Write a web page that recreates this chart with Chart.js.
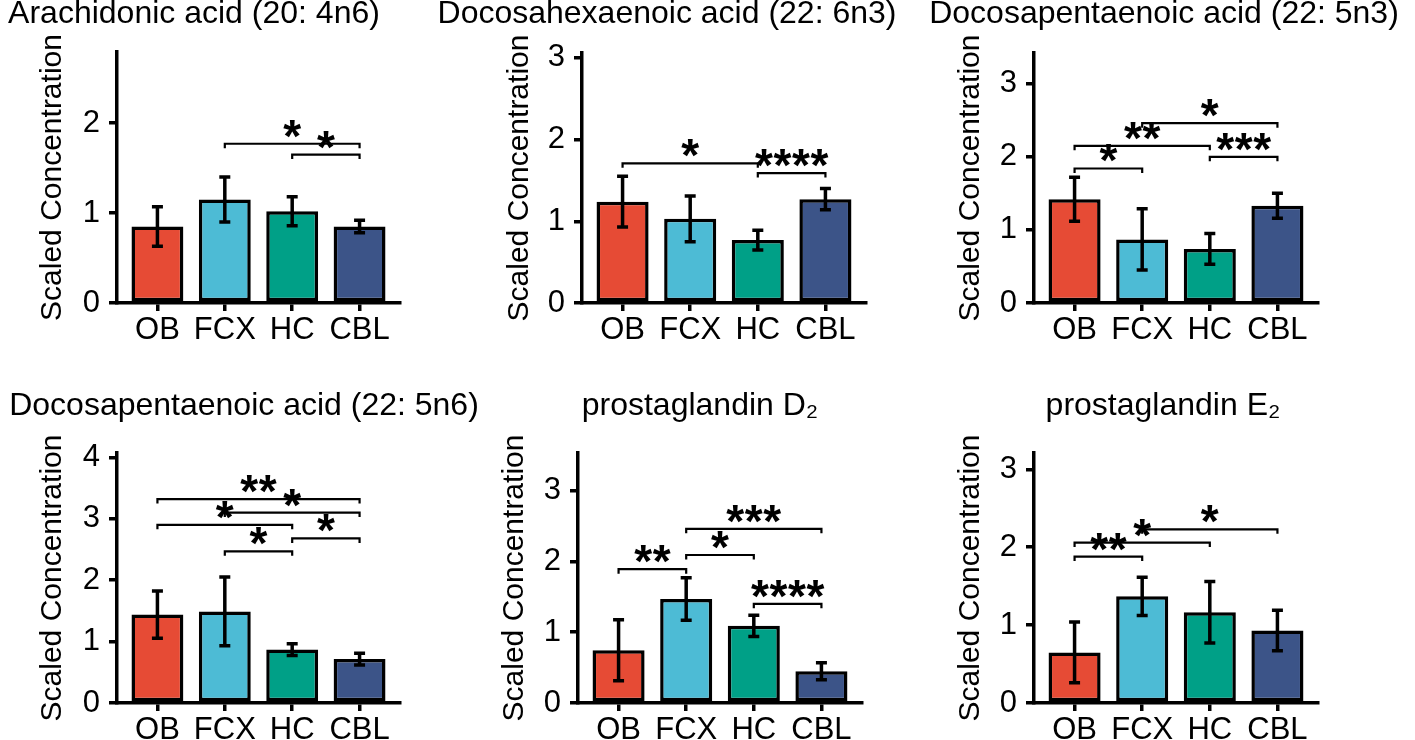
<!DOCTYPE html>
<html>
<head>
<meta charset="utf-8">
<script src="https://cdn.jsdelivr.net/npm/chart.js@4.4.1/dist/chart.umd.min.js"></script>
<style>
  html, body { margin: 0; padding: 0; background: #fff; }
  body { position: relative; width: 1415px; height: 740px; overflow: hidden; }
  canvas { position: absolute; }
</style>
</head>
<body>
<script>
// brain regions and their colours
const regions = ['OB', 'FCX', 'HC', 'CBL'];
const regionColors = ['#E64B35', '#4DBBD5', '#00A087', '#3C5488'];

// mean scaled concentration and error (± half bar) per region
const araMean  = [0.85, 1.15, 1.02, 0.85];
const araErr   = [0.22, 0.25, 0.16, 0.07];
const dhaMean  = [1.24, 1.03, 0.77, 1.27];
const dhaErr   = [0.31, 0.28, 0.12, 0.13];
const dpa3Mean = [1.42, 0.87, 0.74, 1.33];
const dpa3Err  = [0.30, 0.42, 0.21, 0.17];
const dpa6Mean = [1.44, 1.49, 0.87, 0.715];
const dpa6Err  = [0.385, 0.56, 0.095, 0.095];
const pgd2Mean = [0.745, 1.47, 1.09, 0.45];
const pgd2Err  = [0.43, 0.30, 0.15, 0.12];
const pge2Mean = [0.65, 1.37, 1.165, 0.93];
const pge2Err  = [0.39, 0.245, 0.395, 0.26];

// significance brackets: [from region, to region, height, stars]
const araSig  = [[1, 3, 1.77, '*'], [2, 3, 1.65, '*']];
const dhaSig  = [[0, 2, 1.71, '*'], [2, 3, 1.59, '****']];
const dpa3Sig = [[0, 1, 1.84, '*'], [0, 2, 2.15, '**'], [1, 3, 2.46, '*'], [2, 3, 2.0, '***']];
const dpa6Sig = [[0, 3, 3.32, '**'], [1, 3, 3.10, '*'], [0, 2, 2.90, '*'], [2, 3, 2.68, '*'], [1, 2, 2.47, '*']];
const pgd2Sig = [[0, 1, 1.89, '**'], [1, 2, 2.09, '*'], [1, 3, 2.46, '***'], [2, 3, 1.40, '****']];
const pge2Sig = [[0, 1, 1.88, '**'], [0, 2, 2.06, '*'], [1, 3, 2.23, '*']];

const titles = [
  'Arachidonic acid (20: 4n6)',
  'Docosahexaenoic acid (22: 6n3)',
  'Docosapentaenoic acid (22: 5n3)',
  'Docosapentaenoic acid (22: 5n6)',
  'prostaglandin D\u2082',
  'prostaglandin E\u2082'
];
const yMax = [2.79, 3.06, 3.42, 4.07, 3.53, 3.21];
const yLabel = 'Scaled Concentration';

const means = [araMean, dhaMean, dpa3Mean, dpa6Mean, pgd2Mean, pge2Mean];
const errs = [araErr, dhaErr, dpa3Err, dpa6Err, pgd2Err, pge2Err];
const sigs = [araSig, dhaSig, dpa3Sig, dpa6Sig, pgd2Sig, pge2Sig];

// page layout of each panel (plot box, title centre / baseline, y label centre)
const frames = [
  { left: 117,  right: 400,  top: 52,  bottom: 303, titleX: 194,  titleY: 23,  labelX: 53 },
  { left: 582,  right: 866,  top: 53,  bottom: 303, titleX: 667,  titleY: 23,  labelX: 520 },
  { left: 1034, right: 1318, top: 53,  bottom: 303, titleX: 1164, titleY: 23,  labelX: 971 },
  { left: 117,  right: 400,  top: 453, bottom: 703, titleX: 244,  titleY: 415, labelX: 53 },
  { left: 578,  right: 862,  top: 453, bottom: 703, titleX: 700,  titleY: 415, labelX: 515 },
  { left: 1034, right: 1318, top: 453, bottom: 703, titleX: 1163, titleY: 415, labelX: 971 }
];

const FONT = '"Liberation Sans", Arial, Helvetica, sans-serif';
const LINE = 3.5;

const panelMarks = {
  id: 'panelMarks',
  afterDatasetsDraw(chart, args, opts) {
    const ctx = chart.ctx;
    const xs = chart.scales.x, ys = chart.scales.y;
    ctx.save();
    ctx.strokeStyle = '#000';
    ctx.fillStyle = '#000';

    // error bars
    ctx.lineWidth = LINE;
    opts.means.forEach((m, i) => {
      const px = xs.getPixelForValue(i);
      const hi = ys.getPixelForValue(m + opts.errs[i]);
      const lo = ys.getPixelForValue(m - opts.errs[i]);
      ctx.beginPath();
      ctx.moveTo(px, hi); ctx.lineTo(px, lo);
      ctx.moveTo(px - 5.5, hi); ctx.lineTo(px + 5.5, hi);
      ctx.moveTo(px - 5.5, lo); ctx.lineTo(px + 5.5, lo);
      ctx.stroke();
    });

    // significance brackets
    ctx.lineWidth = 2.2;
    ctx.font = 'bold 46px ' + FONT;
    ctx.textAlign = 'center';
    ctx.textBaseline = 'alphabetic';
    opts.sig.forEach(([a, b, h, stars]) => {
      const x1 = xs.getPixelForValue(a), x2 = xs.getPixelForValue(b);
      const py = ys.getPixelForValue(h);
      ctx.beginPath();
      ctx.moveTo(x1, py + 4.5); ctx.lineTo(x1, py); ctx.lineTo(x2, py); ctx.lineTo(x2, py + 4.5);
      ctx.stroke();
      const cx = (x1 + x2) / 2;
      for (let k = 0; k < stars.length; k++) {
        ctx.fillText('*', cx + (k - (stars.length - 1) / 2) * 18.5, py + 8);
      }
    });
    ctx.restore();
  },
  afterDraw(chart, args, opts) {
    const ctx = chart.ctx;
    ctx.save();
    ctx.fillStyle = '#000';
    ctx.font = '32px ' + FONT;
    ctx.textAlign = 'center';
    ctx.textBaseline = 'alphabetic';
    ctx.fillText(opts.title, opts.titleX, opts.titleY);
    ctx.restore();
  }
};

frames.forEach((f, k) => {
  const canvasLeft = Math.round(Math.min(f.labelX - 20, f.titleX - 270));
  const canvasRight = Math.round(Math.max(f.right + 10, f.titleX + 270));
  const canvasTop = f.titleY - 32;
  const canvasBottom = f.bottom + 62;
  const yBoxLeft = f.labelX - 20;

  const canvas = document.createElement('canvas');
  canvas.width = canvasRight - canvasLeft;
  canvas.height = canvasBottom - canvasTop;
  canvas.style.left = canvasLeft + 'px';
  canvas.style.top = canvasTop + 'px';
  document.body.appendChild(canvas);

  const tickFont = { family: FONT, size: 31 };

  new Chart(canvas, {
    type: 'bar',
    data: {
      datasets: [{
        data: means[k].map((v, i) => ({ x: i, y: v })),
        backgroundColor: regionColors,
        borderColor: '#000',
        borderWidth: LINE,
        borderSkipped: false,
        barPercentage: 0.77,
        categoryPercentage: 1
      }]
    },
    options: {
      responsive: false,
      animation: false,
      events: [],
      layout: {
        padding: {
          left: yBoxLeft - canvasLeft,
          right: canvasRight - f.right,
          top: f.top - canvasTop,
          bottom: 0
        }
      },
      plugins: {
        legend: { display: false },
        tooltip: { enabled: false },
        title: { display: false },
        panelMarks: {
          means: means[k],
          errs: errs[k],
          sig: sigs[k],
          title: titles[k],
          titleX: f.titleX - canvasLeft,
          titleY: f.titleY - canvasTop
        }
      },
      scales: {
        x: {
          type: 'linear',
          offset: false,
          min: -0.6,
          max: 3.6,
          afterFit: (s) => { s.height = canvasBottom - f.bottom; },
          border: { display: true, color: '#000', width: LINE },
          grid: { offset: false, drawOnChartArea: false, drawTicks: true, color: '#000', lineWidth: LINE, tickLength: 8 },
          ticks: {
            stepSize: 1,
            includeBounds: false,
            padding: 1,
            color: '#000',
            font: tickFont,
            maxRotation: 0,
            autoSkip: false,
            callback: (v) => regions[v] ?? ''
          }
        },
        y: {
          min: 0,
          max: yMax[k],
          afterFit: (s) => { s.width = f.left - yBoxLeft; },
          border: { display: true, color: '#000', width: LINE },
          grid: { drawOnChartArea: false, drawTicks: true, color: '#000', lineWidth: LINE, tickLength: 8 },
          ticks: {
            stepSize: 1,
            includeBounds: false,
            padding: 9,
            color: '#000',
            font: tickFont
          },
          title: {
            display: true,
            text: yLabel,
            color: '#000',
            font: { family: FONT, size: 30 },
            padding: { top: 2, bottom: 0 }
          }
        }
      }
    },
    plugins: [panelMarks]
  });
});
</script>
</body>
</html>
